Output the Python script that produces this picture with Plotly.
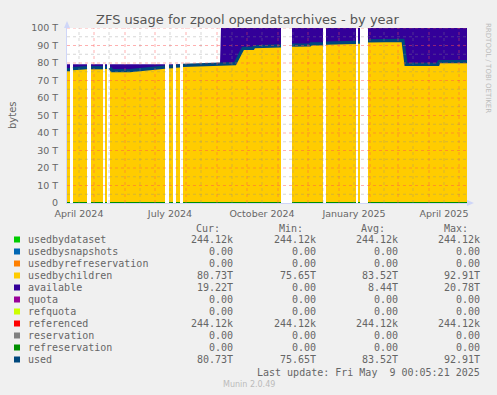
import plotly.graph_objects as go

# ---------------- data (values in T = 1e12 bytes) ----------------
dates = [
    "2024-04-04", "2024-04-07", "2024-04-08",
    "2024-04-10", "2024-04-17", "2024-04-24", "2024-04-26",
    "2024-04-28", "2024-05-10", "2024-05-11",
    "2024-05-12", "2024-05-14", "2024-05-15",
    "2024-05-17", "2024-05-19", "2024-06-06", "2024-06-20", "2024-07-01", "2024-07-11", "2024-07-13",
    "2024-07-15", "2024-07-19", "2024-07-20",
    "2024-07-22", "2024-07-26", "2024-07-27",
    "2024-07-29", "2024-08-15", "2024-09-04", "2024-09-05", "2024-09-19", "2024-09-27",
    "2024-10-07", "2024-10-08", "2024-11-04", "2024-11-09",
    "2024-11-15", "2024-12-03", "2024-12-04", "2024-12-16", "2024-12-17",
    "2024-12-19", "2025-01-04", "2025-01-05", "2025-01-18", "2025-01-19",
    "2025-01-20", "2025-01-22", "2025-01-25",
    "2025-01-30", "2025-03-06", "2025-03-09", "2025-04-10", "2025-04-11", "2025-05-09",
]
usedbychildren_T = [
    76.2, 76.2, None,
    76.8, 77.1, 77.3, None,
    77.3, 77.3, None,
    77.5, 77.5, None,
    77.3, 75.7, 75.65, 76.5, 77.0, 77.6, None,
    77.8, 77.9, None,
    78.2, 78.3, None,
    78.6, 79.0, 79.4, 79.4, 79.6, 88.4,
    88.4, 89.3, 89.8, None,
    90.2, 90.3, 90.9, 90.9, None,
    91.3, 91.4, 91.8, 91.8, None,
    91.9, 91.9, None,
    92.6, 92.91, 79.22, 79.22, 80.73, 80.73,
]
available_T = [
    3.1, 3.1, None,
    2.5, 2.2, 2.0, None,
    2.0, 2.0, None,
    1.8, 1.8, None,
    2.0, 3.6, 3.65, 2.8, 2.3, 1.7, None,
    1.5, 1.4, None,
    1.1, 1.0, None,
    0.7, 0.3, 0.0, 20.6, 20.4, 11.6,
    11.6, 10.7, 10.2, None,
    9.8, 9.7, 9.1, 9.1, None,
    8.7, 8.6, 8.2, 8.2, None,
    8.1, 8.1, None,
    7.4, 7.1, 20.78, 20.78, 19.22, 19.22,
]
used_T = list(usedbychildren_T)          # used == usedbychildren (+244k)
zero_T = [None if v is None else 0.0 for v in used_T]  # series that are 0.00

y_ticks = [0, 10, 20, 30, 40, 50, 60, 70, 80, 90, 100]
y_ticktext = ["0", "10 T", "20 T", "30 T", "40 T", "50 T", "60 T", "70 T", "80 T", "90 T", "100 T"]
x_ticks = ["2024-04-16", "2024-07-16", "2024-10-16", "2025-01-16", "2025-04-16"]
x_ticktext = ["April 2024", "July 2024", "October 2024", "January 2025", "April 2025"]

legend_names = ["usedbydataset", "usedbysnapshots", "usedbyrefreservation", "usedbychildren",
                "available", "quota", "refquota", "referenced", "reservation",
                "refreservation", "used"]
legend_colors = ["#00CC00", "#0066B3", "#FF8000", "#FFCC00", "#330099", "#990099",
                 "#CCFF00", "#FF0000", "#808080", "#008F00", "#00487D"]
cur_vals = ["244.12k", "0.00", "0.00", "80.73T", "19.22T", "0.00", "0.00", "244.12k", "0.00", "0.00", "80.73T"]
min_vals = ["244.12k", "0.00", "0.00", "75.65T", "0.00", "0.00", "0.00", "244.12k", "0.00", "0.00", "75.65T"]
avg_vals = ["244.12k", "0.00", "0.00", "83.52T", "8.44T", "0.00", "0.00", "244.12k", "0.00", "0.00", "83.52T"]
max_vals = ["244.12k", "0.00", "0.00", "92.91T", "20.78T", "0.00", "0.00", "244.12k", "0.00", "0.00", "92.91T"]

# ---------------- layout helpers ----------------
W, H = 497, 395
PL, PR, PT, PB = 67, 467, 28, 203
def xp(px):
    return (px - PL) / (PR - PL)
def yp(py):
    return (PB - py) / (PB - PT)

FONT = "#666666"
fig = go.Figure()

# contiguous segments (gaps = unknown data)
segs, cur = [], []
for i, v in enumerate(usedbychildren_T):
    if v is None:
        if cur:
            segs.append(cur)
            cur = []
    else:
        cur.append(i)
if cur:
    segs.append(cur)

for k, seg in enumerate(segs):
    xs = [dates[i] for i in seg]
    fig.add_trace(go.Scatter(x=xs, y=[usedbychildren_T[i] for i in seg], stackgroup=f"s{k}",
                             mode="lines", line=dict(width=0, color="#FFCC00"),
                             fillcolor="#FFCC00", showlegend=False, hoverinfo="skip"))
    fig.add_trace(go.Scatter(x=xs, y=[available_T[i] for i in seg], stackgroup=f"s{k}",
                             mode="lines", line=dict(width=0, color="#330099"),
                             fillcolor="#330099", showlegend=False, hoverinfo="skip"))

for col in ["#990099", "#CCFF00", "#FF0000", "#808080", "#008F00"]:
    fig.add_trace(go.Scatter(x=dates, y=zero_T, mode="lines", connectgaps=False,
                             line=dict(color=col, width=2), showlegend=False, hoverinfo="skip"))

fig.add_trace(go.Scatter(x=dates, y=used_T, mode="lines", connectgaps=False,
                         line=dict(color="#00487D", width=3.2), showlegend=False, hoverinfo="skip"))

shapes = []
# grid drawn above areas (as rrdtool does)
for v in range(5, 101, 5):
    major = v % 10 == 0
    shapes.append(dict(type="line", xref="paper", yref="y", x0=0, x1=1, y0=v, y1=v,
                       line=dict(color="rgba(255,80,80,0.45)" if major else "rgba(140,140,140,0.35)",
                                 width=1, dash="dot"), layer="above"))
month_starts = ["2024-05-01", "2024-06-01", "2024-07-01", "2024-08-01", "2024-09-01", "2024-10-01",
                "2024-11-01", "2024-12-01", "2025-01-01", "2025-02-01", "2025-03-01", "2025-04-01",
                "2025-05-01"]
mid_months = ["2024-04-16", "2024-05-16", "2024-06-16", "2024-07-16", "2024-08-16", "2024-09-16",
              "2024-10-16", "2024-11-16", "2024-12-16", "2025-01-16", "2025-02-15", "2025-03-16",
              "2025-04-16"]
for d in month_starts:
    shapes.append(dict(type="line", xref="x", yref="paper", x0=d, x1=d, y0=0, y1=1,
                       line=dict(color="rgba(255,80,80,0.45)", width=1, dash="dot"), layer="above"))
for d in mid_months:
    shapes.append(dict(type="line", xref="x", yref="paper", x0=d, x1=d, y0=0, y1=1,
                       line=dict(color="rgba(140,140,140,0.35)", width=1, dash="dot"), layer="above"))

# axis arrows
AX = "#CFD6F8"
shapes.append(dict(type="path", xref="paper", yref="paper",
                   path=f"M {xp(64)} {yp(28)} L {xp(70)} {yp(28)} L {xp(67)} {yp(21)} Z",
                   fillcolor=AX, line=dict(width=0), layer="above"))
shapes.append(dict(type="path", xref="paper", yref="paper",
                   path=f"M {xp(467)} {yp(200)} L {xp(467)} {yp(206)} L {xp(474)} {yp(203)} Z",
                   fillcolor=AX, line=dict(width=0), layer="above"))

annotations = []
# legend table
row_y = [239.5, 251.5, 263.5, 275.5, 287.5, 299.5, 311.5, 323.5, 335.5, 347.5, 359.5]
MONO = "DejaVu Sans Mono"
hdr_y = 228
for txt, xr in [("Cur:", 222), ("Min:", 305), ("Avg:", 387), ("Max:", 470)]:
    annotations.append(dict(text=txt, x=xp(xr), y=yp(hdr_y), xref="paper", yref="paper",
                            xanchor="right", yanchor="middle", showarrow=False,
                            font=dict(family=MONO, size=10, color=FONT)))
for i, name in enumerate(legend_names):
    yy = row_y[i]
    shapes.append(dict(type="rect", xref="paper", yref="paper",
                       x0=xp(14), x1=xp(20), y0=yp(yy - 3), y1=yp(yy + 3),
                       fillcolor=legend_colors[i], line=dict(width=0)))
    annotations.append(dict(text=name, x=xp(26), y=yp(yy), xref="paper", yref="paper",
                            xanchor="left", yanchor="middle", showarrow=False,
                            font=dict(family=MONO, size=10, color=FONT)))
    for vals, xr in [(cur_vals, 235), (min_vals, 318), (avg_vals, 400), (max_vals, 482)]:
        annotations.append(dict(text=vals[i], x=xp(xr), y=yp(yy), xref="paper", yref="paper",
                                xanchor="right", yanchor="middle", showarrow=False,
                                font=dict(family=MONO, size=10, color=FONT)))
annotations.append(dict(text="Last update: Fri May&nbsp; 9 00:05:21 2025",
                        x=xp(482), y=yp(372), xref="paper", yref="paper",
                        xanchor="right", yanchor="middle", showarrow=False,
                        font=dict(family=MONO, size=10, color=FONT)))
annotations.append(dict(text="Munin 2.0.49", x=xp(249), y=yp(384), xref="paper", yref="paper",
                        xanchor="center", yanchor="middle", showarrow=False,
                        font=dict(family="DejaVu Sans", size=8, color="#BBBBBB")))
annotations.append(dict(text="bytes", x=xp(12), y=yp(115), xref="paper", yref="paper",
                        xanchor="center", yanchor="middle", showarrow=False, textangle=-90,
                        font=dict(family="DejaVu Sans", size=10, color=FONT)))
annotations.append(dict(text="RRDTOOL / TOBI OETIKER", x=xp(488), y=yp(68), xref="paper", yref="paper",
                        xanchor="center", yanchor="middle", showarrow=False, textangle=90,
                        font=dict(family="DejaVu Sans", size=7, color="#BBBBBB")))
annotations.append(dict(text="ZFS usage for zpool opendatarchives - by year", x=xp(248), y=yp(19),
                        xref="paper", yref="paper", xanchor="center", yanchor="middle", showarrow=False,
                        font=dict(family="DejaVu Sans", size=13, color="#555555")))

fig.update_layout(
    width=W, height=H,
    margin=dict(l=PL, r=W - PR, t=PT, b=H - PB, pad=0),
    paper_bgcolor="#F0F0F0", plot_bgcolor="#FFFFFF",
    showlegend=False,
    shapes=shapes, annotations=annotations,
    font=dict(family="DejaVu Sans", color=FONT),
    xaxis=dict(type="date", range=["2024-04-04 00:05", "2025-05-09 00:05"],
               tickmode="array", tickvals=x_ticks, ticktext=x_ticktext,
               showgrid=False, zeroline=False, showline=True, linecolor=AX, linewidth=1,
               ticks="", tickfont=dict(size=9.5, color=FONT), ticklabelstandoff=2),
    yaxis=dict(range=[0, 100], tickmode="array", tickvals=y_ticks, ticktext=y_ticktext,
               showgrid=False, zeroline=False, showline=True, linecolor=AX, linewidth=1,
               ticks="", tickfont=dict(size=9.5, color=FONT), ticklabelstandoff=6),
)

fig.write_html("out.html", config={"displayModeBar": False},
               post_script="document.body.style.margin='0';document.body.style.overflow='hidden';")
